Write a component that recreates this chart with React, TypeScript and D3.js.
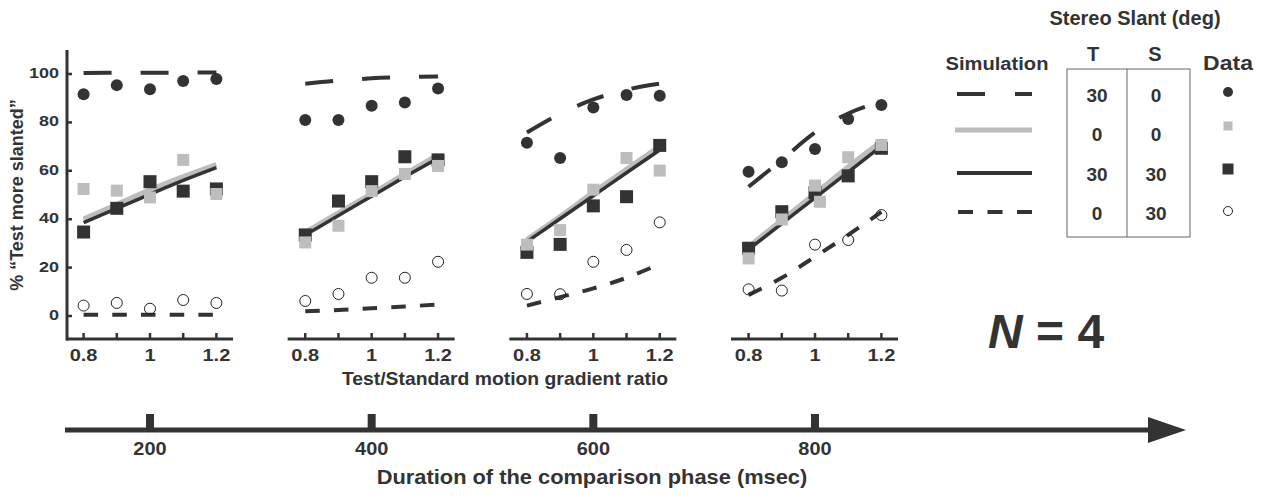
import React from "react";
import * as d3 from "d3";

// ---------- data ----------
const ratios = [0.8, 0.9, 1.0, 1.1, 1.2];
const durations = [200, 400, 600, 800];
const yTicks = [0, 20, 40, 60, 80, 100];
const xTickLabels = [0.8, 1, 1.2];

// Simulation curves (per panel, values at ratios)
const simT30S0 = [
  [100.4, 100.5, 100.5, 100.6, 100.6],
  [96, 97.3, 98.2, 98.7, 99],
  [75.8, 83.5, 89.5, 93.5, 96],
  [53.4, 64.5, 75.8, 83.7, 88.5],
];
const simT0S0 = [
  [40, 46, 52, 57.5, 62.5],
  [34.5, 42.5, 50.5, 58.5, 66.5],
  [31.5, 41, 51, 60.5, 70],
  [28.5, 39.5, 50.5, 61.5, 72],
];
const simT30S30 = [
  [38.6, 44.5, 50.3, 56, 61.3],
  [33.5, 41.5, 49.5, 57.5, 65.2],
  [30.7, 40.2, 49.7, 59.2, 68.6],
  [27.5, 38.2, 48.8, 59.5, 70.2],
];
const simT0S30 = [
  [0.5, 0.5, 0.5, 0.5, 0.5],
  [2, 2.5, 3.2, 3.9, 4.8],
  [4.3, 7.8, 11.4, 15.8, 21.5],
  [8.7, 15.8, 24.5, 33.5, 43],
];

// Observed data (per panel, values at ratios)
const dataT30S0 = [
  [91.6, 95.4, 93.7, 97.1, 97.9],
  [81, 81, 86.9, 88.2, 94],
  [71.6, 65.3, 86.2, 91.3, 91],
  [59.6, 63.5, 69, 81.4, 87.2],
];
const dataT0S0 = [
  [52.5, 51.8, 49, 64.5, 50.4],
  [30.4, 37.3, 51.6, 58.7, 62],
  [29.5, 35.5, 52.2, 65.3, 60.1],
  [23.8, 39.9, 53.9, 65.6, 70.7],
];
const dataT0S0Extra = [{ panel: 3, ratio: 1.015, value: 47.2 }];
const dataT30S30 = [
  [34.7, 44.5, 55.5, 51.6, 52.5],
  [33.5, 47.5, 55.5, 65.8, 64.5],
  [26.3, 29.6, 45.5, 49.3, 70.5],
  [28, 43.1, 50.9, 57.9, 69.3],
];
const dataT0S30 = [
  [4.3, 5.4, 3, 6.6, 5.4],
  [6.2, 9.1, 15.8, 15.8, 22.4],
  [9.1, 9, 22.4, 27.3, 38.7],
  [11, 10.5, 29.5, 31.4, 41.7],
];

const legendRowsT = ["30", "0", "30", "0"];
const legendRowsS = ["0", "0", "30", "30"];

// ---------- styles ----------
const DARK = "#333333";
const GREY = "#bdbdbd";
const FONT = "'Liberation Sans', Arial, Helvetica, sans-serif";

type STextProps = {
  x: number;
  y: number;
  size: number;
  sx?: number;
  anchor?: "start" | "middle" | "end";
  children: React.ReactNode;
};

function SText({ x, y, size, sx = 1, anchor = "middle", children }: STextProps) {
  return (
    <text
      transform={`translate(${x},${y}) scale(${sx},1)`}
      textAnchor={anchor}
      dominantBaseline="middle"
      fontSize={size}
      fontWeight="bold"
      fill={DARK}
    >
      {children}
    </text>
  );
}

export default function App() {
  const W = 1268;
  const H = 497;
  const durScale = d3.scaleLinear().domain([200, 800]).range([150, 815]);
  const yScale = d3.scaleLinear().domain([0, 100]).range([316, 74]);
  const axisY = 339;

  const panels = durations.map((d, i) => {
    const c = durScale(d);
    const xScale = d3.scaleLinear().domain([0.75, 1.25]).range([c - 83, c + 83]);
    const line = d3
      .line<number>()
      .x((_, k) => xScale(ratios[k]))
      .y((v) => yScale(v))
      .curve(d3.curveMonotoneX);
    return (
      <g key={d}>
        {/* x axis */}
        <line x1={xScale(0.75) - 1} x2={xScale(1.25)} y1={axisY} y2={axisY} stroke={DARK} strokeWidth={3} />
        {ratios.map((r) => (
          <line key={r} x1={xScale(r)} x2={xScale(r)} y1={axisY} y2={axisY - 6} stroke={DARK} strokeWidth={2.5} />
        ))}
        {xTickLabels.map((r) => (
          <SText key={r} x={xScale(r)} y={357} size={16} sx={1.25}>
            {String(r)}
          </SText>
        ))}
        {i === 0 && (
          <g>
            <line x1={xScale(0.75)} x2={xScale(0.75)} y1={50} y2={axisY + 1.5} stroke={DARK} strokeWidth={3} />
            {yTicks.map((t) => (
              <g key={t}>
                <line x1={xScale(0.75)} x2={xScale(0.75) + 5} y1={yScale(t)} y2={yScale(t)} stroke={DARK} strokeWidth={2.5} />
                <SText x={59} y={yScale(t)} size={15} sx={1.2} anchor="end">
                  {t}
                </SText>
              </g>
            ))}
          </g>
        )}
        {/* simulation curves */}
        <path d={line(simT0S0[i]) || ""} fill="none" stroke={GREY} strokeWidth={5.5} />
        <path d={line(simT30S30[i]) || ""} fill="none" stroke={DARK} strokeWidth={3.5} />
        <path d={line(simT30S0[i]) || ""} fill="none" stroke={DARK} strokeWidth={4} strokeDasharray="28,29" />
        <path d={line(simT0S30[i]) || ""} fill="none" stroke={DARK} strokeWidth={4} strokeDasharray="14.5,14.2" />
        {/* data */}
        {dataT30S30[i].map((v, k) => (
          <rect key={"ds" + k} x={xScale(ratios[k]) - 6.5} y={yScale(v) - 6.5} width={13} height={13} fill={DARK} />
        ))}
        {dataT0S0[i].map((v, k) => (
          <rect key={"gs" + k} x={xScale(ratios[k]) - 6} y={yScale(v) - 6} width={12} height={12} fill={GREY} />
        ))}
        {dataT0S0Extra.filter((e) => e.panel === i).map((e, k) => (
          <rect key={"ge" + k} x={xScale(e.ratio) - 6} y={yScale(e.value) - 6} width={12} height={12} fill={GREY} />
        ))}
        {dataT30S0[i].map((v, k) => (
          <circle key={"fc" + k} cx={xScale(ratios[k])} cy={yScale(v)} r={6} fill={DARK} />
        ))}
        {dataT0S30[i].map((v, k) => (
          <circle key={"oc" + k} cx={xScale(ratios[k])} cy={yScale(v)} r={5.5} fill="none" stroke="#222" strokeWidth={1} />
        ))}
      </g>
    );
  });

  const legendY = [94, 133, 173, 212];

  return (
    <svg width={W} height={H} style={{ position: "absolute", left: 0, top: 0, fontFamily: FONT }}>
      <rect x={0} y={0} width={W} height={H} fill="#fff" />
      {/* y axis title */}
      <text transform="translate(18,195) rotate(-90)" textAnchor="middle" dominantBaseline="middle" fontSize={18} fontWeight="bold" fill={DARK}>
        % “Test more slanted”
      </text>
      {panels}
      <SText x={505} y={380} size={18} sx={1.075}>
        Test/Standard motion gradient ratio
      </SText>

      {/* legend */}
      <SText x={1135} y={20} size={20}>
        Stereo Slant (deg)
      </SText>
      <SText x={997} y={65} size={19} sx={1.06}>
        Simulation
      </SText>
      <SText x={1093} y={56} size={20}>
        T
      </SText>
      <SText x={1155} y={56} size={20}>
        S
      </SText>
      <SText x={1228} y={65} size={20} sx={1.15}>
        Data
      </SText>
      <rect x={1067} y={69} width={123} height={168} fill="none" stroke="#666" strokeWidth={1} />
      <line x1={1127} x2={1127} y1={69} y2={237} stroke="#666" strokeWidth={1} />
      {legendRowsT.map((t, k) => (
        <g key={k}>
          <SText x={1097} y={legendY[k] + 3} size={19}>
            {t}
          </SText>
          <SText x={1156} y={legendY[k] + 3} size={19}>
            {legendRowsS[k]}
          </SText>
        </g>
      ))}
      <line x1={957} x2={1032} y1={legendY[0]} y2={legendY[0]} stroke={DARK} strokeWidth={4} strokeDasharray="28,30" />
      <line x1={955} x2={1032} y1={legendY[1] - 3} y2={legendY[1] - 3} stroke={GREY} strokeWidth={5} />
      <line x1={957} x2={1032} y1={legendY[2]} y2={legendY[2]} stroke={DARK} strokeWidth={4} />
      <line x1={958} x2={1032} y1={legendY[3]} y2={legendY[3]} stroke={DARK} strokeWidth={4} strokeDasharray="15,14.5" />
      <circle cx={1228} cy={92} r={5} fill={DARK} />
      <rect x={1223.5} y={121.5} width={9} height={9} fill={GREY} />
      <rect x={1222.5} y={163.5} width={11} height={11} fill={DARK} />
      <circle cx={1228} cy={211} r={4.5} fill="none" stroke="#222" strokeWidth={1} />

      {/* N = 4 */}
      <text x={988} y={348} fontSize={48} fontWeight="bold" fill={DARK}>
        <tspan fontStyle="italic">N</tspan>
        <tspan> = 4</tspan>
      </text>

      {/* duration axis */}
      <line x1={65} x2={1152} y1={430} y2={430} stroke={DARK} strokeWidth={5} />
      <polygon points="1148,417 1186,430 1148,443" fill={DARK} />
      {durations.map((d) => (
        <g key={d}>
          <rect x={durScale(d) - 4} y={414} width={8} height={16} fill={DARK} />
          <SText x={durScale(d)} y={450} size={19} sx={1.05}>
            {d}
          </SText>
        </g>
      ))}
      <SText x={592} y={478} size={21} sx={1.04}>
        Duration of the comparison phase (msec)
      </SText>
    </svg>
  );
}
